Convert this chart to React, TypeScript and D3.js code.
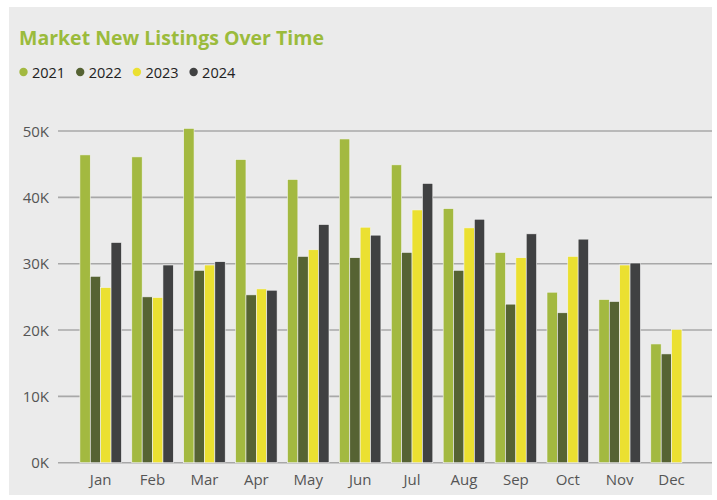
import React from "react";
import * as d3 from "d3";

const months = ["Jan","Feb","Mar","Apr","May","Jun","Jul","Aug","Sep","Oct","Nov","Dec"];
const years = ["2021","2022","2023","2024"];
const v2021 = [46.4,46.1,50.4,45.7,42.7,48.8,44.9,38.3,31.7,25.7,24.6,17.9];
const v2022 = [28.1,25.0,29.0,25.3,31.1,30.9,31.7,29.0,23.9,22.6,24.3,16.4];
const v2023 = [26.4,24.9,29.8,26.2,32.1,35.5,38.1,35.4,30.9,31.1,29.8,20.1];
const v2024 = [33.2,29.8,30.3,26.0,35.9,34.3,42.1,36.7,34.5,33.7,30.1,null];
const yTicks = [0,10,20,30,40,50];
const colors = ["#a3b940","#566333","#ebe031","#404142"];

export default function App() {
  const W = 717, H = 500;
  const series = [v2021, v2022, v2023, v2024];
  const x0 = d3.scaleBand().domain(months).range([74.7, 697.5]).paddingInner(0.2).paddingOuter(0.1);
  const x1 = d3.scaleBand().domain(years).range([0, x0.bandwidth()]);
  const y = d3.scaleLinear().domain([0, 50]).range([462.7, 131]);
  const font = "'Open Sans', 'Noto Sans', sans-serif";
  return (
    <svg width={W} height={H} style={{position:"absolute", left:0, top:0}} fontFamily={font}>
      <rect x={0} y={0} width={W} height={H} fill="#ffffff" />
      <rect x={9} y={7} width={703} height={488} fill="#ebebeb" />
      <text x={19} y={45} fill="#9bbb3c" fontSize={19.5} fontWeight="bold">Market New Listings Over Time</text>
      <g>
        {years.map((yr, i) => {
          const lx = 23.5 + i * 56.7;
          return (
            <g key={yr}>
              <circle cx={lx} cy={72} r={4.2} fill={colors[i]} />
              <text x={lx + 8.5} y={77.5} fontSize={14.5} fill="#222">{yr}</text>
            </g>
          );
        })}
      </g>
      {yTicks.map(t => (
        <g key={t}>
          <line x1={58} x2={712} y1={y(t)} y2={y(t)} stroke="#a8a8a8" strokeWidth={1.6} />
          <text x={49} y={y(t) + 5.5} textAnchor="end" fontSize={15} fill="#555">{t}K</text>
        </g>
      ))}
      {months.map((m, mi) => (
        <g key={m} transform={`translate(${x0(m)},0)`}>
          {series.map((s, si) => {
            const v = s[mi];
            if (v == null) return null;
            return (
              <rect key={si} x={x1(years[si])} y={y(v)} width={x1.bandwidth()} height={y(0) - y(v)}
                fill={colors[si]} stroke="#f4f4f4" strokeWidth={0.6} />
            );
          })}
          <text x={x0.bandwidth() / 2} y={485} textAnchor="middle" fontSize={15} fill="#555">{m}</text>
        </g>
      ))}
    </svg>
  );
}
